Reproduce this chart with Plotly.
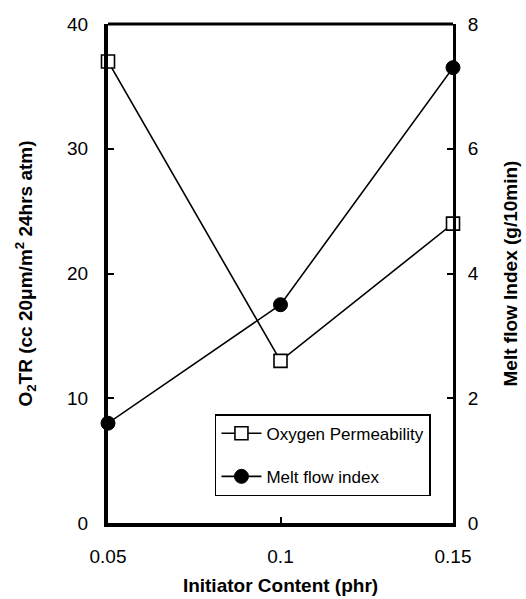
import plotly.graph_objects as go

initiator = [0.05, 0.1, 0.15]
oxygen_perm = [37, 13, 24]
melt_flow = [1.6, 3.5, 7.3]
x_ticks = [0.05, 0.1, 0.15]
x_tick_labels = ["0.05", "0.1", "0.15"]
left_ticks = [0, 10, 20, 30, 40]
right_ticks = [0, 2, 4, 6, 8]

FONT = "Liberation Sans, Arial, Helvetica, sans-serif"

fig = go.Figure()
fig.add_trace(go.Scatter(
    x=initiator, y=oxygen_perm, name="Oxygen Permeability",
    mode="lines+markers", yaxis="y", legendgroup="a",
    line=dict(color="black", width=1.6),
    marker=dict(symbol="square", size=13, color="white", line=dict(color="black", width=1.6)),
    cliponaxis=False,
))
fig.add_trace(go.Scatter(
    x=initiator, y=melt_flow, name="Melt flow index",
    mode="lines+markers", yaxis="y2", legendgroup="b",
    line=dict(color="black", width=1.6),
    marker=dict(symbol="circle", size=14, color="black", line=dict(color="black", width=1)),
    cliponaxis=False,
))

fig.update_layout(
    width=526, height=599,
    margin=dict(l=108, r=73, t=24, b=76),
    paper_bgcolor="white", plot_bgcolor="white",
    font=dict(family=FONT, color="black", size=19),
    showlegend=True,
    legend=dict(
        x=0.31, y=0.218, xanchor="left", yanchor="top",
        bgcolor="white", bordercolor="black", borderwidth=1.5,
        font=dict(size=17, family=FONT),
        tracegroupgap=18, traceorder="grouped",
        itemwidth=40,
    ),
    xaxis=dict(
        range=[0.05, 0.15], tickvals=x_ticks, ticktext=x_tick_labels,
        ticks="inside", ticklen=6, tickwidth=1.5, tickcolor="black",
        showline=True, linewidth=4, linecolor="black",
        showgrid=False, zeroline=False, ticklabelstandoff=13,
        title=dict(text="<b>Initiator Content (phr)</b>", font=dict(size=19), standoff=14),
        automargin=False,
    ),
    yaxis=dict(
        range=[0, 40], tickvals=left_ticks,
        ticks="inside", ticklen=6, tickwidth=1.5, tickcolor="black",
        showline=True, linewidth=4, linecolor="black",
        showgrid=False, zeroline=False, ticklabelstandoff=12,
        title=dict(text="<b>O<sub>2</sub>TR (cc 20μm/m<sup>2</sup> 24hrs atm)</b>", font=dict(size=19), standoff=30),
        automargin=False,
    ),
    yaxis2=dict(
        range=[0, 8], tickvals=right_ticks, overlaying="y", side="right",
        ticks="inside", ticklen=6, tickwidth=1.5, tickcolor="black",
        showline=True, linewidth=3, linecolor="black",
        showgrid=False, zeroline=False, ticklabelstandoff=8,
        title=dict(text="<b>Melt flow Index (g/10min)</b>", font=dict(size=19), standoff=26),
        automargin=False,
    ),
    shapes=[dict(type="line", xref="paper", yref="paper", x0=0, x1=1, y0=1, y1=1,
                 line=dict(color="black", width=3))],
)

fig.write_html(
    "out.html",
    config={"displayModeBar": False},
    post_script="document.body.style.margin='0';document.body.style.overflow='hidden';",
)
